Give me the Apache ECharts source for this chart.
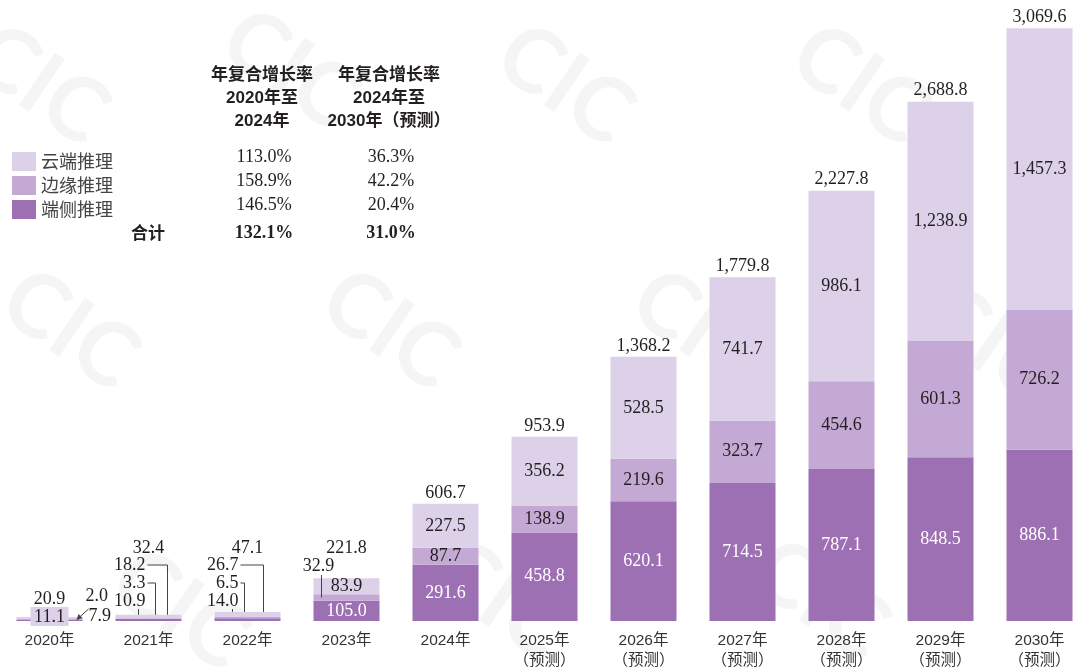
<!DOCTYPE html>
<html>
<head>
<meta charset="utf-8">
<script src="https://cdn.jsdelivr.net/npm/echarts@6/dist/echarts.min.js"></script>
<style>html,body{margin:0;padding:0;background:#fff;}#c{width:1073px;height:671px;}</style>
</head>
<body>
<div id="c"></div>
<script>
const xLabels = ['2020年','2021年','2022年','2023年','2024年','2025年\n（预测）','2026年\n（预测）','2027年\n（预测）','2028年\n（预测）','2029年\n（预测）','2030年\n（预测）'];
const cloud  = [11.1, 18.2, 26.7, 83.9, 227.5, 356.2, 528.5, 741.7, 986.1, 1238.9, 1457.3];
const edge   = [2.0, 3.3, 6.5, 32.9, 87.7, 138.9, 219.6, 323.7, 454.6, 601.3, 726.2];
const device = [7.9, 10.9, 14.0, 105.0, 291.6, 458.8, 620.1, 714.5, 787.1, 848.5, 886.1];
const totals = [20.9, 32.4, 47.1, 221.8, 606.7, 953.9, 1368.2, 1779.8, 2227.8, 2688.8, 3069.6];
const seriesNames = ['云端推理','边缘推理','端侧推理'];
const cagrHead1 = ['年复合增长率','2020年至','2024年'];
const cagrHead2 = ['年复合增长率','2024年至','2030年（预测）'];
const cagr2024 = ['113.0%','158.9%','146.5%'];
const cagr2030 = ['36.3%','42.2%','20.4%'];
const totalLabel = '合计';
const totalCagr = ['132.1%','31.0%'];

const C_CLOUD = '#dcd1e8', C_EDGE = '#c4a9d5', C_DEV = '#9d6fb3';
const SERIF = '"Liberation Serif","Times New Roman",serif';
const SANS = '"Liberation Sans","Noto Sans CJK SC",sans-serif';
const NUMFONT = '18px ' + SERIF;
const TXT = '#231f20';

function fmt(v){ return v.toFixed(1).replace(/\B(?=(\d{3})+(?!\d))/g, ','); }

const chart = echarts.init(document.getElementById('c'));

function T(x, y, s, align, font, fill){
  return {type:'text', z2: 10, style:{text:s, x:x, y:y, textAlign:align||'center', textVerticalAlign:'middle', font:font||NUMFONT, fill:fill||TXT}};
}
function P(pts){
  return {type:'polyline', z2: 9, shape:{points:pts}, style:{stroke:'#444', lineWidth:1, fill:null}};
}

function renderAnn(params, api){
  const i = api.value(0);
  const total = api.value(1);
  const base = api.coord([i, 0]);
  const cx = base[0], by = base[1];
  const top = api.coord([i, total])[1];
  const ch = [];
  if (i >= 4) {
    ch.push(T(cx, top - 11, fmt(total)));
  } else if (i === 3) {
    ch.push(T(cx, by - 73, fmt(total)));
    ch.push(T(cx - 28, by - 55, fmt(edge[i])));
    const em = api.coord([i, device[i] + edge[i] / 2])[1];
    ch.push(P([[cx - 25, by - 46], [cx - 25, em]]));
  } else if (i === 2 || i === 1) {
    const r = i === 2 ? cx - 9 : cx - 3;
    const l1 = i === 2 ? cx + 16 : cx + 19;
    const l2 = i === 2 ? cx - 3 : cx + 7;
    const l3 = i === 2 ? cx - 15 : cx - 10;
    ch.push(T(cx, by - 73, fmt(total)));
    ch.push(T(r, by - 56, fmt(cloud[i]), 'right'));
    ch.push(P([[r + 2, by - 56], [l1, by - 56], [l1, top]]));
    ch.push(T(r, by - 38, fmt(edge[i]), 'right'));
    ch.push(P([[r + 2, by - 38], [l2, by - 38], [l2, top]]));
    ch.push(T(r, by - 20, fmt(device[i]), 'right'));
    ch.push(P([[l3, by - 12], [l3, top]]));
  } else if (i === 0) {
    ch.push(T(cx, by - 22, fmt(total)));
    ch.push({type:'rect', z2: 8, shape:{x:cx - 19, y:by - 14, width:38, height:19}, style:{fill:C_CLOUD}});
    ch.push(T(cx, by - 4, fmt(cloud[i])));
    ch.push(T(cx + 36, by - 25, fmt(edge[i]), 'left'));
    ch.push(T(cx + 39, by - 5, fmt(device[i]), 'left'));
    ch.push(P([[cx + 39, by - 12], [cx + 28, by - 2]]));
    ch.push({type:'polygon', z2: 9, shape:{points:[[cx + 27, by - 1], [cx + 29, by - 7], [cx + 33, by - 3]]}, style:{fill:'#444'}});
  }
  return {type:'group', children: ch};
}

function innerLabel(minIdx, color){
  return {
    show: true, position: 'inside', color: color, fontFamily: SERIF, fontSize: 18,
    formatter: p => (p.dataIndex >= minIdx) ? fmt(p.value) : ''
  };
}

const graphics = [];
// watermarks
[[40,85],[290,70],[565,85],[860,85],[70,330],[390,330],[700,330],[990,345],[180,610],[500,600],[820,600]].forEach(p => {
  graphics.push({type:'text', z: -10, rotation: -0.6, x: p[0], y: p[1],
    style:{text:'CIC', font:'bold 88px Lato, sans-serif', fill:'#f5f5f5', textAlign:'center', textVerticalAlign:'middle'}});
});
const HEADFONT = 'bold 17px ' + SANS;
cagrHead1.forEach((s, k) => graphics.push(T(262, 75 + k * 23, s, 'center', HEADFONT, TXT)));
cagrHead2.forEach((s, k) => graphics.push(T(389, 75 + k * 23, s, 'center', HEADFONT, TXT)));
const rowY = [157, 181, 205];
cagr2024.forEach((s, k) => graphics.push(T(264, rowY[k], s, 'center', NUMFONT, TXT)));
cagr2030.forEach((s, k) => graphics.push(T(391, rowY[k], s, 'center', NUMFONT, TXT)));
graphics.push(T(148, 233, totalLabel, 'center', 'bold 17px "Noto Sans CJK SC",sans-serif', TXT));
graphics.push(T(264, 233, totalCagr[0], 'center', 'bold 18px ' + SERIF, TXT));
graphics.push(T(391, 233, totalCagr[1], 'center', 'bold 18px ' + SERIF, TXT));

chart.setOption({
  animation: false,
  backgroundColor: '#fff',
  graphic: graphics,
  legend: {
    orient: 'vertical', left: 7, top: 147, itemWidth: 24, itemHeight: 19, itemGap: 5,
    icon: 'rect', selectedMode: false,
    data: seriesNames,
    textStyle: {fontSize: 18, fontFamily: '"Noto Sans CJK SC",sans-serif', color: '#444'}
  },
  grid: {left: 0, width: 1089, top: 3, bottom: 50, containLabel: false, outerBoundsMode: 'none'},
  xAxis: {
    type: 'category', data: xLabels,
    axisLine: {show: false}, axisTick: {show: false},
    axisLabel: {margin: 10, fontSize: 15.5, lineHeight: 20, color: '#333', fontFamily: SANS, interval: 0}
  },
  yAxis: {type: 'value', min: 0, max: 3200, show: false, splitLine: {show: false}},
  series: [
    {name: seriesNames[2], type: 'bar', stack: 't', barWidth: 66, data: device,
      itemStyle: {color: C_DEV}, label: innerLabel(3, '#ffffff')},
    {name: seriesNames[1], type: 'bar', stack: 't', barWidth: 66, data: edge,
      itemStyle: {color: C_EDGE}, label: innerLabel(4, TXT)},
    {name: seriesNames[0], type: 'bar', stack: 't', barWidth: 66, data: cloud,
      itemStyle: {color: C_CLOUD}, label: innerLabel(3, TXT)},
    {type: 'custom', z: 5, data: totals.map((t, i) => [i, t]), renderItem: renderAnn, silent: true}
  ]
});
</script>
</body>
</html>
